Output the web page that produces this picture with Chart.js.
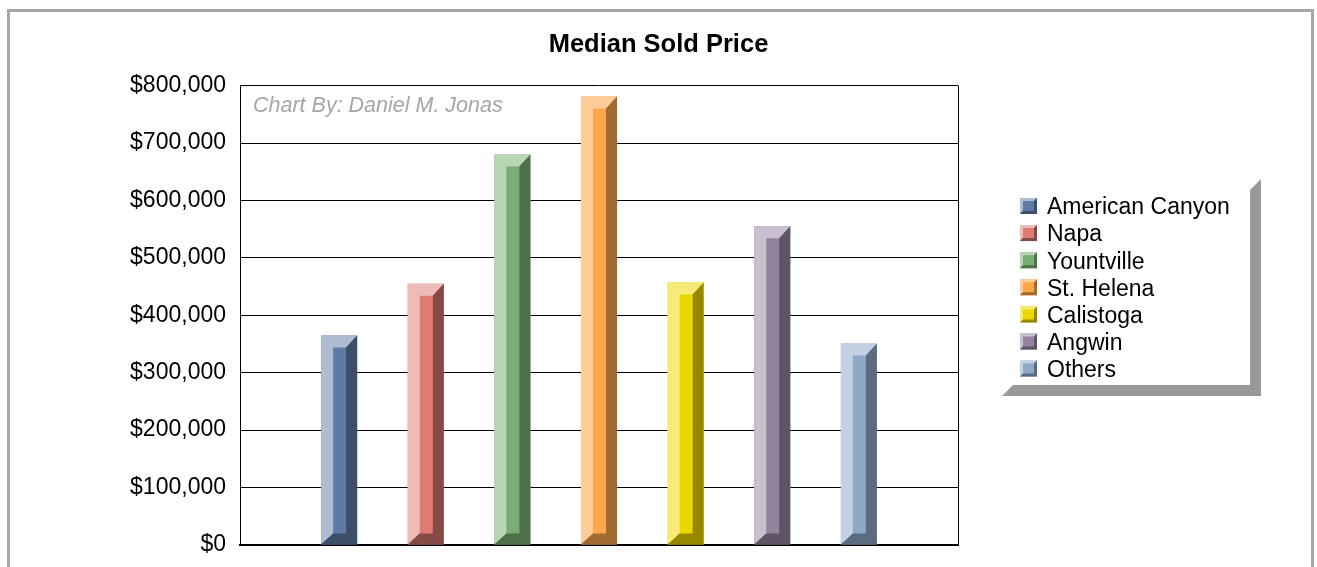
<!DOCTYPE html>
<html>
<head>
<meta charset="utf-8">
<title>Median Sold Price</title>
<script src="https://cdn.jsdelivr.net/npm/chart.js@4"></script>
<style>
  html, body { margin: 0; padding: 0; background: #fff; overflow: hidden; }
  #frame { position: absolute; left: 7px; top: 9px; width: 1301px; height: 600px; border: 3px solid #a6a6a6; }
  #chart { position: absolute; left: 0; top: 0; }
</style>
</head>
<body>
<div id="frame"></div>
<canvas id="chart" width="1317" height="567"></canvas>
<script>
// Data
const categories = ['Median Sold Price'];
const areas = ['American Canyon', 'Napa', 'Yountville', 'St. Helena', 'Calistoga', 'Angwin', 'Others'];
const prices = [365000, 455000, 680000, 781000, 457000, 555000, 351000];
const yTicks = [0, 100000, 200000, 300000, 400000, 500000, 600000, 700000, 800000];

// Bar colours: face, top/left bevel, right/bottom bevel
const faceColors = ['#5f7ba5', '#e07b73', '#78ae72', '#ffa64d', '#ebd600', '#94829e', '#8fa8c8'];
const lightColors = ['#aebbd1', '#efbbb8', '#b8d5b4', '#ffcc99', '#f6ea78', '#c9bfcf', '#c3d0e2'];
const darkColors = ['#3d4e68', '#864a46', '#4d6f49', '#a06a30', '#968900', '#5f5366', '#5b6b80'];

const fontFamily = '"Liberation Sans", Arial, sans-serif';

// Draws a beveled rectangle over the box
function drawBevel(ctx, left, top, right, bottom, bl, bt, br, bb, light, dark) {
    ctx.fillStyle = light;
    ctx.beginPath();
    ctx.moveTo(left, bottom);
    ctx.lineTo(left, top);
    ctx.lineTo(right, top);
    ctx.lineTo(right - br, top + bt);
    ctx.lineTo(left + bl, top + bt);
    ctx.lineTo(left + bl, bottom - bb);
    ctx.closePath();
    ctx.fill();

    ctx.fillStyle = dark;
    ctx.beginPath();
    ctx.moveTo(right, top);
    ctx.lineTo(right, bottom);
    ctx.lineTo(left, bottom);
    ctx.lineTo(left + bl, bottom - bb);
    ctx.lineTo(right - br, bottom - bb);
    ctx.lineTo(right - br, top + bt);
    ctx.closePath();
    ctx.fill();
}

// Bevel on each bar, taken from the bar elements
const bevelPlugin = {
    id: 'bevel',
    afterDatasetsDraw(chart) {
        const ctx = chart.ctx;
        chart.data.datasets.forEach((ds, i) => {
            const bar = chart.getDatasetMeta(i).data[0];
            const left = bar.x - bar.width / 2;
            const right = bar.x + bar.width / 2;
            drawBevel(ctx, left, bar.y, right, bar.base, 12, 12, 11, 11, lightColors[i], darkColors[i]);
        });
    }
};

// Credit line inside the plot
const creditPlugin = {
    id: 'credit',
    afterDatasetsDraw(chart) {
        const ctx = chart.ctx;
        ctx.save();
        ctx.font = 'italic 21.5px ' + fontFamily;
        ctx.fillStyle = '#a6a6a6';
        ctx.textBaseline = 'middle';
        ctx.textAlign = 'left';
        ctx.fillText('Chart By: Daniel M. Jonas', chart.chartArea.left + 13, chart.chartArea.top + 20);
        ctx.restore();
    }
};

// Legend box with its drop shadow
const legendPlugin = {
    id: 'legendBox',
    afterDraw(chart) {
        const ctx = chart.ctx;
        ctx.save();
        ctx.fillStyle = '#999999';
        ctx.beginPath();
        ctx.moveTo(1261, 179);
        ctx.lineTo(1261, 396);
        ctx.lineTo(1002, 396);
        ctx.lineTo(1013, 385);
        ctx.lineTo(1250, 385);
        ctx.lineTo(1250, 190);
        ctx.closePath();
        ctx.fill();

        ctx.font = '23px ' + fontFamily;
        ctx.textBaseline = 'middle';
        ctx.textAlign = 'left';
        chart.data.datasets.forEach((ds, i) => {
            const y = 206 + i * 27.1;
            ctx.fillStyle = faceColors[i];
            ctx.fillRect(1020, y - 8, 17, 16);
            drawBevel(ctx, 1020, y - 8, 1037, y + 8, 3, 3, 3, 3, lightColors[i], darkColors[i]);
            ctx.fillStyle = '#000';
            ctx.fillText(ds.label, 1047, y + 2);
        });
        ctx.restore();
    }
};

new Chart(document.getElementById('chart'), {
    type: 'bar',
    data: {
        labels: categories,
        datasets: areas.map((area, i) => ({
            label: area,
            data: [prices[i]],
            backgroundColor: faceColors[i],
            categoryPercentage: 0.8445,
            barPercentage: 0.416
        }))
    },
    options: {
        responsive: false,
        animation: false,
        layout: { padding: { bottom: 22 } },
        plugins: {
            legend: { display: false },
            tooltip: { enabled: false },
            title: {
                display: true,
                text: 'Median Sold Price',
                color: '#000',
                font: { family: fontFamily, size: 25.5, weight: 'bold' },
                padding: { top: 30, bottom: 25 }
            }
        },
        scales: {
            x: {
                afterFit(scale) { scale.height = 0; },
                ticks: { display: false },
                grid: { color: '#000', lineWidth: 1, drawTicks: false },
                border: { color: '#000', width: 2 }
            },
            y: {
                min: 0,
                max: 800000,
                // the tick labels may hang over the plot, keep the plot size fixed
                afterFit(scale) {
                    scale.width = 240;
                    scale.paddingTop = 0;
                    scale.paddingBottom = 0;
                },
                afterBuildTicks(scale) { scale.ticks = yTicks.map(v => ({ value: v })); },
                ticks: {
                    color: '#000',
                    padding: 14,
                    font: { family: fontFamily, size: 23 },
                    callback: v => '$' + v.toLocaleString('en-US')
                },
                grid: { color: '#000', lineWidth: 1, drawTicks: false },
                border: { color: '#000', width: 1 }
            },
            // Empty axis that keeps the room on the right for the legend box
            legendGap: {
                position: 'right',
                min: 0,
                max: 1,
                afterFit(scale) {
                    scale.width = 359;
                    scale.paddingTop = 0;
                    scale.paddingBottom = 0;
                },
                ticks: { display: false },
                grid: { display: false },
                border: { display: false }
            }
        }
    },
    plugins: [bevelPlugin, creditPlugin, legendPlugin]
});
</script>
</body>
</html>
